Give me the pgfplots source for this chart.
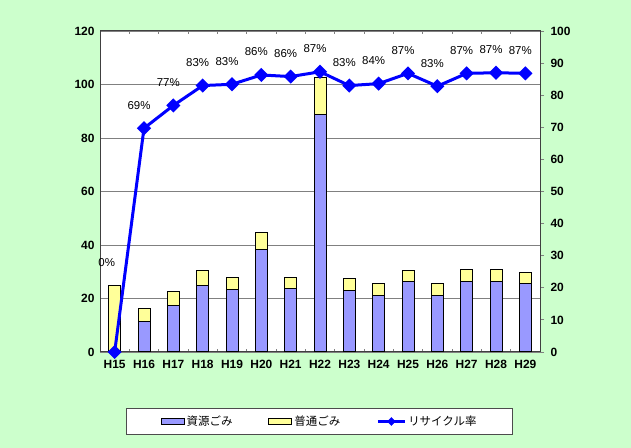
\documentclass[border=0pt]{standalone}
\usepackage{pgfplots}
\pgfplotsset{compat=1.18}
\usepackage{fontspec}
\setmainfont{Liberation Sans}
\newfontfamily\jp{Noto Sans CJK JP}
\definecolor{bg}{HTML}{CCFFCC}
\definecolor{res}{HTML}{9999FF}
\definecolor{ord}{HTML}{FFFF99}
\definecolor{gridc}{HTML}{808080}
\begin{document}
\begin{tikzpicture}
\fill[bg] (0,0) rectangle (631bp,448bp);
\begin{axis}[
  at={(100bp,96bp)}, anchor=south west, scale only axis,
  width=440bp, height=321bp,
  xmin=-0.5, xmax=14.5, ymin=0, ymax=120,
  ytick={0,20,...,120},
  xtick={0,...,14},
  xticklabels={H15,H16,H17,H18,H19,H20,H21,H22,H23,H24,H25,H26,H27,H28,H29},
  ybar stacked, bar width=12bp,
  axis background/.style={fill=white},
  ymajorgrids, grid style={gridc, line width=0.8bp},
  axis line style={draw=black!75, line width=1bp},
  major tick length=0pt,
  minor xtick={0.5,1.5,...,13.5}, minor tick length=3bp,
  minor tick style={gridc, line width=0.6bp},
  tick align=inside,
  tick label style={font=\bfseries\fontsize{12}{14}\selectfont},
  xticklabel style={yshift=-5bp},
  yticklabel style={xshift=-2bp},
  /pgf/number format/assume math mode=true,
  legend style={at={(0.499,-0.2165)}, anchor=center, legend columns=3,
    draw=black!70, fill=white, font=\jp\fontsize{11.5}{13}\selectfont,
    inner xsep=34bp, inner ysep=5.5bp,
    /tikz/every even column/.append style={column sep=34bp}},
]
\addplot[fill=res, draw=black, line width=1bp,
  legend image code/.code={\draw[fill=res,draw=black,line width=1bp] (0bp,-3bp) rectangle (23bp,3bp);}]
  coordinates {(0,0) (1,11.3) (2,17.4) (3,25) (4,23.3) (5,38.5) (6,23.7) (7,88.6)
  (8,23.1) (9,21.3) (10,26.3) (11,21.3) (12,26.5) (13,26.5) (14,25.7)};
\addlegendentry{資源ごみ}
\addplot[fill=ord, draw=black, line width=1bp,
  legend image code/.code={\draw[fill=ord,draw=black,line width=1bp] (0bp,-3bp) rectangle (23bp,3bp);}]
  coordinates {(0,25) (1,4.9) (2,5.4) (3,5.5) (4,4.5) (5,6) (6,4.1) (7,14.1)
  (8,4.5) (9,4.4) (10,4.2) (11,4.4) (12,4.4) (13,4.4) (14,4.2)};
\addlegendentry{普通ごみ}
\addlegendimage{legend image code/.code={%
  \draw[blue, line width=3bp] (0bp,0bp) -- (27bp,0bp);
  \fill[blue] (13.5bp,0bp) +(0,4bp) -- +(4bp,0) -- +(0,-4bp) -- +(-4bp,0) -- cycle;}}
\addlegendentry{リサイクル率}
\node[font=\bfseries\fontsize{12}{14}\selectfont] at (rel axis cs:-0.023,1.044) {(t)};
\end{axis}
\begin{axis}[
  at={(100bp,96bp)}, anchor=south west, scale only axis,
  width=440bp, height=321bp,
  xmin=-0.5, xmax=14.5, ymin=0, ymax=100,
  axis y line*=right, axis x line=none,
  ytick={0,10,...,100},
  tick align=outside, major tick length=4bp,
  tick style={gridc, line width=0.8bp},
  axis line style={draw=black!75, line width=1bp},
  tick label style={font=\bfseries\fontsize{12}{14}\selectfont},
  yticklabel style={xshift=3bp},
  /pgf/number format/assume math mode=true,
  clip=false,
]
\addplot[blue, line width=3bp, mark=square*, mark size=3.5bp, mark options={rotate=45}]
  coordinates {(0,0) (1,69.7) (2,76.8) (3,83.0) (4,83.4) (5,86.3) (6,85.8) (7,87.3)
  (8,83.0) (9,83.6) (10,86.8) (11,82.8) (12,86.8) (13,87.0) (14,86.8)};
\addplot[draw=none, mark=none, nodes near coords={\pgfplotspointmeta\%},
  point meta=explicit symbolic,
  nodes near coords style={font=\fontsize{11.5}{13}\selectfont, anchor=center, xshift=-5bp, yshift=23bp}]
  coordinates {(1,69.7) [69] (2,76.8) [77] (3,83.0) [83] (4,83.4) [83] (5,86.3) [86]
  (6,85.8) [86] (7,87.3) [87] (8,83.0) [83] (9,83.6) [84] (10,86.8) [87]
  (11,82.8) [83] (12,86.8) [87] (13,87.0) [87] (14,86.8) [87]};
\node[font=\fontsize{11.5}{13}\selectfont] at (axis cs:-0.27,28) {0\%};
\end{axis}
\end{tikzpicture}
\end{document}
